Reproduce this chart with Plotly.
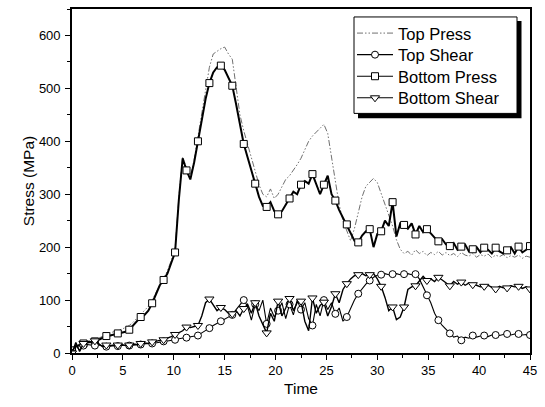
import plotly.graph_objects as go

# sampling grid (time units)
time_step = 0.375
time = [i * time_step for i in range(121)]
marker_every = 3  # markers drawn on every 3rd sample (Origin "skip points")

top_press = [
    5, 14, 17, 20, 22, 24, 25, 28, 32, 35,
    38, 40, 42, 45, 48, 52, 58, 66, 74, 80,
    88, 100, 115, 130, 142, 155, 175, 195, 295, 370,
    350, 332, 365, 410, 455, 500, 540, 565, 570, 575,
    578, 565, 555, 500, 450, 420, 395, 370, 345, 318,
    300, 295, 310, 292, 300, 315, 328, 335, 345, 356,
    368, 385, 400, 410, 418, 425, 432, 415, 370, 320,
    280, 250, 230, 212, 235, 265, 295, 315, 322, 330,
    322, 302, 282, 262, 240, 214, 196, 188, 192, 185,
    195, 188, 192, 184, 190, 186, 192, 185, 190, 184,
    188, 182, 190, 185, 183, 188, 181, 186, 183, 187,
    180, 185, 182, 186, 180, 184, 181, 185, 179, 183, 181,
]

bottom_press = [
    5, 12, 15, 18, 20, 21, 22, 25, 28, 32,
    33, 35, 37, 38, 40, 44, 52, 62, 68, 72,
    80, 94, 110, 128, 138, 150, 170, 190, 290, 368,
    345, 328, 360, 400, 440, 480, 510, 530, 540, 543,
    535, 520, 505, 470, 430, 395, 370, 345, 320, 295,
    278, 276, 285, 268, 262, 268, 280, 292, 305, 300,
    318, 325, 320, 338, 320, 300, 318, 335, 300, 288,
    270, 255, 243, 225, 212, 209, 222, 230, 234, 200,
    225, 230, 250, 240, 285, 220, 245, 242, 235, 245,
    224, 240, 228, 234, 225, 218, 211, 215, 205, 202,
    208, 195, 201, 205, 192, 196, 200, 190, 199, 195,
    188, 199, 192, 188, 194, 200, 188, 201, 190, 195, 202,
]

top_shear = [
    0, 15, 5, 14, 16, 15, 14, 15, 13, 12,
    13, 14, 13, 14, 15, 14, 15, 16, 16, 17,
    18, 18, 19, 21, 22, 23, 24, 25, 27, 28,
    29, 30, 32, 33, 38, 42, 47, 52, 56, 60,
    64, 68, 72, 82, 92, 100, 88, 62, 92, 80,
    100, 55, 85, 68, 80, 95, 65, 92, 72, 100,
    82, 95, 65, 52, 92, 70, 100, 82, 95, 74,
    85, 60, 68, 85, 100, 112, 122, 130, 137, 143,
    147, 148, 150, 148, 149, 150, 148, 149, 150, 148,
    149, 140, 125, 109, 95, 75, 62, 52, 45, 37,
    30, 32, 24, 30, 28, 33, 30, 32, 33, 31,
    34, 34, 33, 35, 36, 34, 36, 36, 34, 35, 34,
]

bottom_shear = [
    0, 20, 3, 18, 22, 20, 23, 18, 12, 15,
    14, 15, 15, 16, 14, 15, 17, 16, 18, 19,
    18, 21, 22, 24, 25, 28, 31, 35, 38, 42,
    49, 48, 50, 52, 70, 95, 102, 90, 80, 86,
    82, 75, 74, 80, 70, 84, 92, 75, 95, 70,
    55, 38, 75, 60, 98, 70, 85, 103, 80, 95,
    98, 60, 42, 104, 75, 90, 96, 70, 88, 112,
    95, 120, 131, 140, 146, 148, 150, 146, 148, 150,
    140, 126, 105, 80, 87, 63, 68, 87, 120, 125,
    127, 135, 145, 137, 140, 135, 143, 138, 132, 127,
    135, 130, 134, 128, 132, 129, 128, 125, 126, 128,
    124, 121, 126, 123, 123, 127, 125, 126, 122, 125, 121,
]

x_ticks = [0, 5, 10, 15, 20, 25, 30, 35, 40, 45]
y_ticks = [0, 100, 200, 300, 400, 500, 600]

FONT = "Arial, 'Liberation Sans', sans-serif"
TP_DASH = "6px,2px,1.5px,2px,1.5px,2px"

series = [
    # name, values, line width, color, dash, marker symbol, marker size
    ("Top Press", top_press, 1.0, "#707070", TP_DASH, None, 0),
    ("Bottom Press", bottom_press, 2.0, "black", "solid", "square", 7),
    ("Top Shear", top_shear, 1.1, "black", "solid", "circle", 7),
    ("Bottom Shear", bottom_shear, 1.4, "black", "solid", "triangle-down", 8),
]

fig = go.Figure()

for name, vals, lw, col, dash, sym, ms in series:
    fig.add_trace(go.Scatter(
        x=time, y=vals, mode="lines", showlegend=False,
        line=dict(color=col, width=lw, dash=dash), hoverinfo="skip",
    ))
    if sym:
        fig.add_trace(go.Scatter(
            x=time[::marker_every], y=vals[::marker_every], mode="markers",
            showlegend=False, hoverinfo="skip",
            marker=dict(symbol=sym, size=ms, color="white",
                        line=dict(color="black", width=1)),
        ))

# plot-area geometry (pixels) used to place the legend box
PL, PR, PT, PB = 72, 530, 7, 353
def px_x(p):
    return (p - PL) / (PR - PL)
def px_y(p):
    return (PB - p) / (PB - PT)

# legend entries: one legend per row so row spacing matches the reference
legend_order = ["Top Press", "Top Shear", "Bottom Press", "Bottom Shear"]
row_centres = [31.5, 53.2, 74.9, 96.6]
style = {s[0]: s for s in series}
legend_layouts = {}
for k, name in enumerate(legend_order):
    _, _, lw, col, dash, sym, ms = style[name]
    lname = "legend" if k == 0 else f"legend{k + 1}"
    if sym:
        tr = go.Scatter(
            x=[None], y=[None], mode="lines+markers", name=name, legend=lname,
            line=dict(color=col, width=1.1, dash=dash),
            marker=dict(symbol=sym, size=ms, color="white",
                        line=dict(color="black", width=1)),
        )
    else:
        tr = go.Scatter(
            x=[None], y=[None], mode="lines", name=name, legend=lname,
            line=dict(color=col, width=lw, dash=dash),
        )
    fig.add_trace(tr)
    legend_layouts[lname] = dict(
        x=px_x(352), y=px_y(row_centres[k]), xanchor="left", yanchor="middle",
        bgcolor="rgba(0,0,0,0)", borderwidth=0, itemwidth=36,
        font=dict(size=16.5, family=FONT, color="black"),
    )

# legend drop shadow and framed box
fig.add_shape(type="rect", xref="paper", yref="paper",
              x0=px_x(358), x1=px_x(521.5), y0=px_y(117), y1=px_y(19),
              fillcolor="black", line=dict(width=0), layer="above")
fig.add_shape(type="rect", xref="paper", yref="paper",
              x0=px_x(354), x1=px_x(517), y0=px_y(112), y1=px_y(15),
              fillcolor="white", line=dict(color="black", width=1), layer="above")

axis_common = dict(
    showgrid=False, zeroline=False, showline=True, linecolor="black",
    linewidth=1.6, mirror=True, ticks="outside", ticklen=5, tickwidth=1,
    tickcolor="black", tickfont=dict(size=13, color="black", family=FONT),
)

fig.update_xaxes(range=[0, 45], tickvals=x_ticks, ticktext=[str(v) for v in x_ticks],
                 minor=dict(dtick=2.5, tick0=0, ticks="outside", ticklen=3, tickcolor="black"),
                 title=dict(text="Time", font=dict(size=15.5, family=FONT, color="black"), standoff=6),
                 **axis_common)
fig.update_yaxes(range=[0, 650], tickvals=y_ticks, ticktext=[str(v) for v in y_ticks],
                 minor=dict(dtick=50, tick0=0, ticks="outside", ticklen=3, tickcolor="black"),
                 ticklabelstandoff=2,
                 title=dict(text="Stress (MPa)", font=dict(size=15.5, family=FONT, color="black"), standoff=0),
                 **axis_common)

fig.update_layout(
    width=545, height=407,
    margin=dict(l=PL, r=545 - PR, t=PT, b=407 - PB),
    paper_bgcolor="white", plot_bgcolor="white",
    font=dict(family=FONT, color="black"),
    showlegend=True,
    **legend_layouts,
)

fig.write_html("out.html")
